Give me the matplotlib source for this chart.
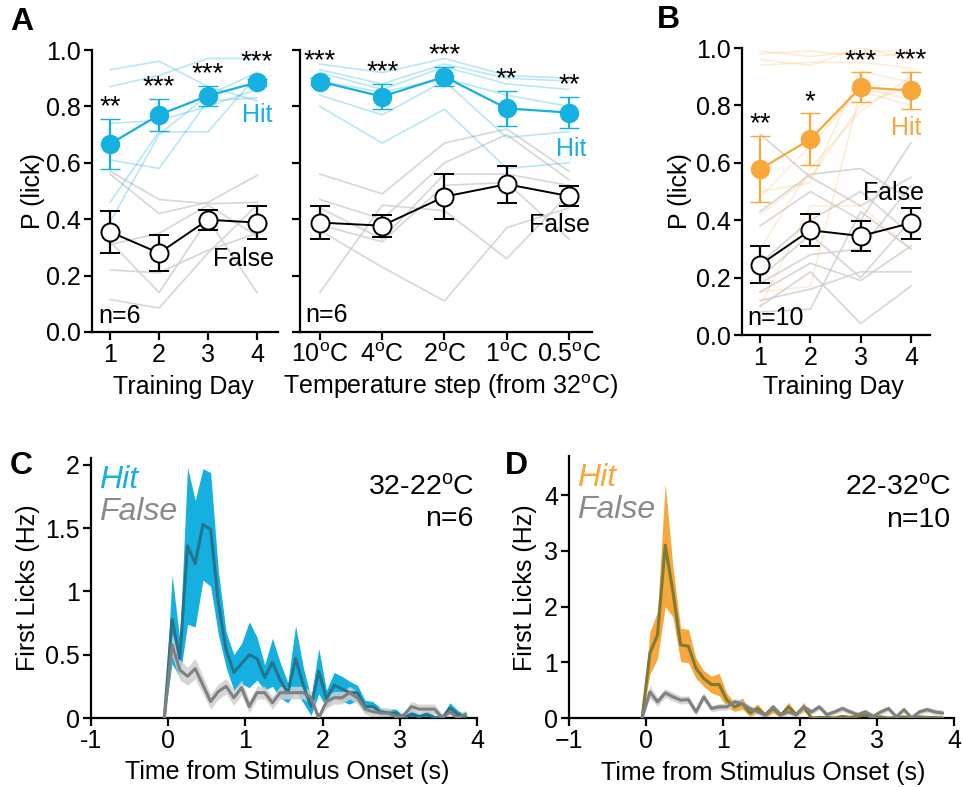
import numpy as np
import matplotlib
matplotlib.use("Agg")
import matplotlib.pyplot as plt

plt.rcParams['font.family'] = ['Liberation Sans', 'DejaVu Sans']
plt.rcParams['mathtext.fontset'] = 'custom'
plt.rcParams['mathtext.rm'] = 'Liberation Sans'
plt.rcParams['mathtext.it'] = 'Liberation Sans:italic'

# ---------------- data ----------------
days = [1, 2, 3, 4]
day_labels = ['1', '2', '3', '4']

# Panel A (training, 32-22 C)
a_hit_mean = [0.667, 0.770, 0.838, 0.885]
a_hit_sem = [0.088, 0.057, 0.035, 0.012]
a_false_mean = [0.355, 0.280, 0.398, 0.388]
a_false_sem = [0.075, 0.065, 0.036, 0.058]
a_hit_ind = [
    [0.93, 0.96, 0.87, 0.82],
    [0.87, 0.91, 0.97, 0.97],
    [0.74, 0.75, 0.80, 0.86],
    [0.61, 0.58, 0.82, 0.83],
    [0.46, 0.71, 0.71, 0.91],
    [0.39, 0.70, 0.84, 0.92],
]
a_false_ind = [
    [0.57, 0.47, 0.455, 0.46],
    [0.56, 0.42, 0.46, 0.555],
    [0.31, 0.35, 0.45, 0.34],
    [0.22, 0.21, 0.29, 0.35],
    [0.32, 0.14, 0.40, 0.14],
    [0.115, 0.085, 0.28, 0.45],
]
a_stars = ['**', '***', '***', '***']

# Panel A right (temperature steps)
steps = [1, 2, 3, 4, 5]
step_labels = ['10$^{\\mathrm{o}}$C', '4$^{\\mathrm{o}}$C', '2$^{\\mathrm{o}}$C',
               '1$^{\\mathrm{o}}$C', '0.5$^{\\mathrm{o}}$C']
t_hit_mean = [0.888, 0.835, 0.905, 0.793, 0.778]
t_hit_sem = [0.012, 0.045, 0.034, 0.063, 0.055]
t_false_mean = [0.388, 0.377, 0.480, 0.524, 0.482]
t_false_sem = [0.058, 0.039, 0.080, 0.065, 0.034]
t_hit_ind = [
    [0.95, 0.92, 0.97, 0.91, 0.90],
    [0.93, 0.88, 0.95, 0.90, 0.89],
    [0.92, 0.86, 0.94, 0.88, 0.86],
    [0.89, 0.85, 0.90, 0.84, 0.80],
    [0.84, 0.77, 0.89, 0.69, 0.71],
    [0.80, 0.67, 0.79, 0.58, 0.60],
]
t_false_ind = [
    [0.56, 0.49, 0.67, 0.72, 0.57],
    [0.47, 0.40, 0.60, 0.70, 0.54],
    [0.44, 0.33, 0.56, 0.56, 0.52],
    [0.38, 0.32, 0.52, 0.53, 0.33],
    [0.36, 0.23, 0.11, 0.37, 0.44],
    [0.14, 0.45, 0.43, 0.26, 0.49],
]
t_stars = ['***', '***', '***', '**', '**']

# Panel B (training, 22-32 C)
b_hit_mean = [0.578, 0.682, 0.863, 0.852]
b_hit_sem = [0.116, 0.090, 0.052, 0.064]
b_false_mean = [0.245, 0.365, 0.345, 0.390]
b_false_sem = [0.064, 0.055, 0.052, 0.054]
b_hit_ind = [
    [0.99, 0.97, 0.99, 0.99],
    [0.98, 0.99, 0.97, 0.98],
    [0.96, 0.94, 1.00, 0.96],
    [0.94, 0.95, 0.95, 0.93],
    [0.50, 0.53, 0.92, 0.88],
    [0.48, 0.66, 0.86, 0.82],
    [0.42, 0.55, 0.80, 0.87],
    [0.30, 0.58, 0.78, 0.90],
    [0.15, 0.17, 0.85, 0.80],
    [0.10, 0.45, 0.45, 0.30],
]
b_false_ind = [
    [0.70, 0.55, 0.45, 0.55],
    [0.43, 0.56, 0.58, 0.47],
    [0.38, 0.50, 0.40, 0.67],
    [0.25, 0.40, 0.50, 0.35],
    [0.20, 0.35, 0.20, 0.40],
    [0.18, 0.28, 0.30, 0.52],
    [0.15, 0.25, 0.19, 0.31],
    [0.12, 0.16, 0.22, 0.22],
    [0.10, 0.22, 0.04, 0.17],
    [0.08, 0.09, 0.43, 0.30],
]
b_stars = ['**', '*', '***', '***']

# Panels C/D: first-lick rate time courses (bin centres, s)
t_bins = [-0.05, 0.05, 0.15, 0.25, 0.35, 0.45, 0.55, 0.65, 0.75, 0.85,
          0.95, 1.05, 1.15, 1.25, 1.35, 1.45, 1.55, 1.65, 1.75, 1.85,
          1.95, 2.05, 2.15, 2.25, 2.35, 2.45, 2.55, 2.65, 2.75, 2.85,
          2.95, 3.05, 3.15, 3.25, 3.35, 3.45, 3.55, 3.65, 3.75, 3.85]
c_hit_mean = [0.00, 0.78, 0.47, 1.36, 1.22, 1.53, 1.49, 0.91, 0.54, 0.36,
              0.43, 0.50, 0.47, 0.32, 0.44, 0.30, 0.20, 0.47, 0.26, 0.09,
              0.37, 0.15, 0.26, 0.23, 0.20, 0.20, 0.09, 0.09, 0.05, 0.04,
              0.04, 0.00, 0.03, 0.01, 0.03, 0.00, 0.00, 0.08, 0.03, 0.01]
c_hit_sem = [0.00, 0.35, 0.15, 0.62, 0.50, 0.44, 0.45, 0.25, 0.14, 0.14,
             0.16, 0.26, 0.17, 0.10, 0.19, 0.14, 0.08, 0.26, 0.14, 0.07,
             0.18, 0.07, 0.10, 0.10, 0.09, 0.06, 0.05, 0.04, 0.03, 0.03,
             0.03, 0.02, 0.04, 0.02, 0.03, 0.02, 0.02, 0.04, 0.03, 0.02]
c_false_mean = [0.00, 0.58, 0.38, 0.33, 0.39, 0.26, 0.13, 0.21, 0.25, 0.16,
                0.24, 0.09, 0.20, 0.20, 0.12, 0.20, 0.20, 0.20, 0.20, 0.16,
                0.00, 0.13, 0.16, 0.16, 0.20, 0.16, 0.07, 0.05, 0.04, 0.04,
                0.01, 0.02, 0.09, 0.07, 0.07, 0.07, 0.00, 0.05, 0.00, 0.03]
c_false_sem = [0.00, 0.09, 0.08, 0.07, 0.08, 0.07, 0.06, 0.06, 0.06, 0.06,
               0.06, 0.05, 0.05, 0.05, 0.05, 0.05, 0.05, 0.05, 0.05, 0.05,
               0.03, 0.05, 0.05, 0.05, 0.05, 0.05, 0.04, 0.04, 0.04, 0.04,
               0.03, 0.03, 0.04, 0.04, 0.04, 0.04, 0.03, 0.04, 0.03, 0.03]
d_hit_mean = [0.00, 1.16, 1.49, 3.10, 2.26, 1.31, 1.29, 0.89, 0.71, 0.60,
              0.60, 0.32, 0.20, 0.26, 0.09, 0.17, 0.05, 0.17, 0.05, 0.20,
              0.06, 0.20, 0.00, 0.01, 0.01, 0.00, 0.03, 0.01, 0.03, 0.05,
              0.01, 0.02, 0.00, 0.01, 0.02, 0.00, 0.02, 0.01, 0.01, 0.00]
d_hit_sem = [0.00, 0.38, 0.42, 1.10, 0.45, 0.30, 0.30, 0.18, 0.14, 0.15,
             0.20, 0.12, 0.08, 0.10, 0.06, 0.08, 0.04, 0.08, 0.04, 0.08,
             0.04, 0.08, 0.02, 0.02, 0.02, 0.02, 0.03, 0.02, 0.03, 0.03,
             0.02, 0.02, 0.02, 0.02, 0.02, 0.02, 0.02, 0.02, 0.02, 0.02]
d_false_mean = [0.00, 0.47, 0.29, 0.45, 0.38, 0.32, 0.33, 0.11, 0.38, 0.17,
                0.20, 0.20, 0.29, 0.26, 0.17, 0.11, 0.06, 0.20, 0.06, 0.11,
                0.06, 0.20, 0.11, 0.20, 0.06, 0.11, 0.17, 0.11, 0.06, 0.11,
                0.03, 0.11, 0.17, 0.02, 0.15, 0.00, 0.11, 0.15, 0.11, 0.09]
d_false_sem = [0.00, 0.12, 0.08, 0.08, 0.08, 0.07, 0.07, 0.06, 0.07, 0.06,
               0.06, 0.06, 0.06, 0.05, 0.05, 0.05, 0.05, 0.05, 0.05, 0.05,
               0.05, 0.05, 0.05, 0.05, 0.05, 0.05, 0.05, 0.05, 0.05, 0.05,
               0.05, 0.05, 0.05, 0.05, 0.05, 0.05, 0.05, 0.05, 0.05, 0.05]

# ---------------- style ----------------
BLUE = '#15b0e0'
ORANGE = '#f8a73a'
BLUE_LINE = '#23748e'
ORANGE_LINE = '#7c7a34'
GRAY_LINE = '#808080'
GRAY_BAND = '#cfcfcf'
FS = 18
FS_STAR = 20
FS_IT = 23
FS_NOTE = 20.5

W, H = 963, 787
fig = plt.figure(figsize=(W / 100, H / 100), dpi=100)


def ax_px(x0, x1, ytop, ybot):
    return fig.add_axes([x0 / W, 1 - ybot / H, (x1 - x0) / W, (ybot - ytop) / H])


def style(ax):
    for s in ['top', 'right']:
        ax.spines[s].set_visible(False)
    for s in ['left', 'bottom']:
        ax.spines[s].set_linewidth(1.6)
    ax.tick_params(direction='out', length=6, width=1.6, labelsize=FS, pad=2)


def fig_text(xpx, ypx, s, **kw):
    fig.text(xpx / W, 1 - ypx / H, s, **kw)


def prob_panel(ax, xs, hit_ind, false_ind, hit_mean, hit_sem, false_mean, false_sem,
               color, ind_alpha):
    for row in false_ind:
        ax.plot(xs, row, color='#cccccc', lw=1.2, alpha=0.8, zorder=1)
    for row in hit_ind:
        ax.plot(xs, row, color=color, lw=1.2, alpha=ind_alpha, zorder=1)
    ax.errorbar(xs, false_mean, yerr=false_sem, color='black', lw=1.4,
                marker='o', ms=13, mfc='white', mec='black', mew=1.4,
                capsize=7, capthick=1.6, elinewidth=1.6, zorder=3, clip_on=False)
    ax.errorbar(xs, hit_mean, yerr=hit_sem, color=color, lw=1.6,
                marker='o', ms=13, mfc=color, mec=color, mew=1.0,
                capsize=7, capthick=1.6, elinewidth=1.6, zorder=4, clip_on=False)
    ax.set_ylim(0, 1.0)
    ax.set_yticks([0, 0.2, 0.4, 0.6, 0.8, 1.0])


def stars(ax, xs, hit_mean, hit_sem, labels):
    for x, m, s, lab in zip(xs, hit_mean, hit_sem, labels):
        ax.text(x, m + max(s, 0.03) - 0.005, lab, ha='center', va='bottom',
                fontsize=FS_STAR, color='black')


# ---- Panel A left ----
axA = ax_px(92, 278, 50, 332)
style(axA)
prob_panel(axA, days, a_hit_ind, a_false_ind, a_hit_mean, a_hit_sem,
           a_false_mean, a_false_sem, BLUE, 0.3)
axA.set_xlim(0.63, 4.43)
axA.set_xticks(days)
axA.set_xticklabels(day_labels)
axA.set_yticklabels(['0.0', '0.2', '0.4', '0.6', '0.8', '1.0'])
stars(axA, days, a_hit_mean, a_hit_sem, a_stars)
axA.text(4.0, 0.77, 'Hit', color=BLUE, fontsize=FS, ha='center', va='center')
axA.text(3.73, 0.26, 'False', color='black', fontsize=FS, ha='center', va='center')
axA.text(0.76, 0.055, 'n=6', color='black', fontsize=FS, ha='left', va='center')

# ---- Panel A right ----
axT = ax_px(300, 592, 50, 332)
style(axT)
prob_panel(axT, steps, t_hit_ind, t_false_ind, t_hit_mean, t_hit_sem,
           t_false_mean, t_false_sem, BLUE, 0.3)
axT.set_xlim(0.68, 5.37)
axT.set_xticks(steps)
axT.set_xticklabels(step_labels)
axT.set_yticklabels([])
stars(axT, steps, t_hit_mean, t_hit_sem, t_stars)
axT.text(5.03, 0.65, 'Hit', color=BLUE, fontsize=FS, ha='center', va='center')
axT.text(4.85, 0.38, 'False', color='black', fontsize=FS, ha='center', va='center')
axT.text(0.77, 0.06, 'n=6', color='black', fontsize=FS, ha='left', va='center')

# ---- Panel B ----
axB = ax_px(742, 930, 48, 335)
style(axB)
prob_panel(axB, days, b_hit_ind, b_false_ind, b_hit_mean, b_hit_sem,
           b_false_mean, b_false_sem, ORANGE, 0.2)
axB.set_xlim(0.64, 4.38)
axB.set_xticks(days)
axB.set_xticklabels(day_labels)
axB.set_yticklabels(['0.0', '0.2', '0.4', '0.6', '0.8', '1.0'])
stars(axB, days, b_hit_mean, b_hit_sem, b_stars)
axB.text(3.9, 0.72, 'Hit', color=ORANGE, fontsize=FS, ha='center', va='center')
axB.text(3.65, 0.495, 'False', color='black', fontsize=FS, ha='center', va='center')
axB.text(0.74, 0.06, 'n=10', color='black', fontsize=FS, ha='left', va='center')


# ---- Panels C / D ----
def rate_panel(ax, hit_mean, hit_sem, false_mean, false_sem, band_color, line_color):
    t = np.array(t_bins)
    hm, hs = np.array(hit_mean), np.array(hit_sem)
    fm, fs = np.array(false_mean), np.array(false_sem)
    ax.fill_between(t, np.clip(hm - hs, 0, None), hm + hs, color=band_color,
                    lw=0, zorder=1)
    ax.fill_between(t, np.clip(fm - fs, 0, None), fm + fs, color=GRAY_BAND,
                    alpha=0.85, lw=0, zorder=2)
    ax.plot(t, hm, color=line_color, lw=2.2, zorder=3)
    ax.plot(t, fm, color=GRAY_LINE, lw=2.2, zorder=4)
    ax.set_xlim(-1, 4)
    ax.set_xticks([-1, 0, 1, 2, 3, 4])


axC = ax_px(91, 477, 458, 718)
style(axC)
rate_panel(axC, c_hit_mean, c_hit_sem, c_false_mean, c_false_sem, BLUE, BLUE_LINE)
axC.set_ylim(0, 2.055)
axC.set_yticks([0, 0.5, 1, 1.5, 2])
axC.set_yticklabels(['0', '0.5', '1', '1.5', '2'])
axC.set_xticklabels(['-1', '0', '1', '2', '3', '4'])
axC.text(-0.9, 1.88, 'Hit', color=BLUE, fontsize=FS_IT, style='italic', ha='left', va='center')
axC.text(-0.9, 1.63, 'False', color='#8a8a8a', fontsize=FS_IT, style='italic', ha='left', va='center')
axC.text(3.97, 1.82, '32-22$^{\\mathrm{o}}$C', fontsize=FS_NOTE, ha='right', va='center')
axC.text(3.95, 1.57, 'n=6', fontsize=FS_NOTE, ha='right', va='center')

axD = ax_px(569, 954, 456, 718)
style(axD)
rate_panel(axD, d_hit_mean, d_hit_sem, d_false_mean, d_false_sem, ORANGE, ORANGE_LINE)
axD.set_ylim(0, 4.70)
axD.set_yticks([0, 1, 2, 3, 4])
axD.set_yticklabels(['0', '1', '2', '3', '4'])
axD.set_xticklabels(['\u22121', '0', '1', '2', '3', '4'])
axD.text(-0.9, 4.3, 'Hit', color=ORANGE, fontsize=FS_IT, style='italic', ha='left', va='center')
axD.text(-0.9, 3.73, 'False', color='#8a8a8a', fontsize=FS_IT, style='italic', ha='left', va='center')
axD.text(3.97, 4.13, '22-32$^{\\mathrm{o}}$C', fontsize=FS_NOTE, ha='right', va='center')
axD.text(3.95, 3.55, 'n=10', fontsize=FS_NOTE, ha='right', va='center')

# ---- axis labels ----
fig_text(33, 191, 'P (lick)', rotation=90, fontsize=FS, ha='center', va='center')
fig_text(680, 191, 'P (lick)', rotation=90, fontsize=FS, ha='center', va='center')
fig_text(183, 387, 'Training Day', fontsize=FS, ha='center', va='center')
fig_text(450, 387, 'Temperature step (from 32$^{\\mathrm{o}}$C)', fontsize=FS, ha='center', va='center')
fig_text(833, 387, 'Training Day', fontsize=FS, ha='center', va='center')
fig_text(28, 588, 'First Licks (Hz)', rotation=90, fontsize=FS, ha='center', va='center')
fig_text(525, 588, 'First Licks (Hz)', rotation=90, fontsize=FS, ha='center', va='center')
fig_text(287, 772, 'Time from Stimulus Onset (s)', fontsize=FS, ha='center', va='center')
fig_text(763, 773, 'Time from Stimulus Onset (s)', fontsize=FS, ha='center', va='center')

# ---- panel letters ----
for x, y, s in [(10, 22, 'A'), (657, 20, 'B'), (10, 466, 'C'), (505, 466, 'D')]:
    fig_text(x, y, s, fontsize=23, fontweight='bold', ha='left', va='center')

fig.savefig('out.png', dpi=100)
